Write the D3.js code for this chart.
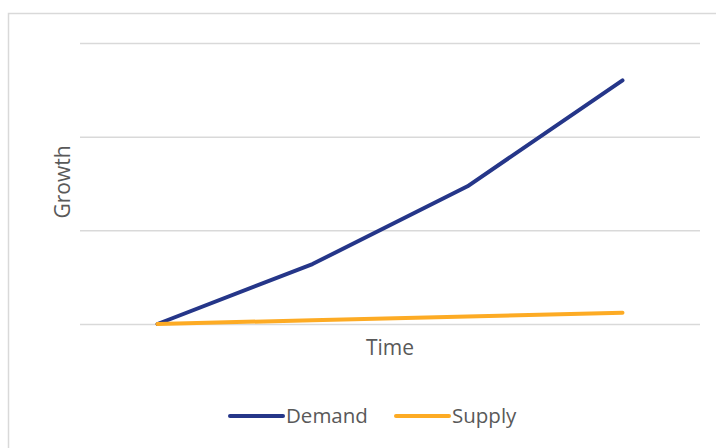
<!DOCTYPE html>
<html>
<head>
<meta charset="utf-8">
<script src="https://cdn.jsdelivr.net/npm/d3@7"></script>
<style>
  html, body { margin: 0; padding: 0; background: #fff; }
  svg { display: block; }
  text { font-family: "Open Sans", "Liberation Sans", sans-serif; fill: #595959; }
</style>
</head>
<body>
<svg id="chart" width="716" height="448"></svg>
<script>
const categories = ["T1", "T2", "T3", "T4"];
const demandValues = [0, 64, 147, 260];
const supplyValues = [0, 4, 8, 12];
const yTicks = [0, 100, 200, 300];
const seriesNames = ["Demand", "Supply"];
const seriesColors = ["#253689", "#FDAB24"];

const svg = d3.select("#chart");
const plot = { left: 80, right: 700, top: 43, bottom: 324 };

// outer chart border
svg.append("rect")
  .attr("x", 8.5).attr("y", 13.5)
  .attr("width", 760).attr("height", 480)
  .attr("fill", "#fff").attr("stroke", "#d9d9d9").attr("stroke-width", 1.5);

const x = d3.scaleBand().domain(categories).range([plot.left, plot.right]);
const y = d3.scaleLinear().domain([0, 300]).range([plot.bottom, plot.top]);

// gridlines
svg.append("g")
  .attr("transform", `translate(${plot.left},0)`)
  .call(d3.axisLeft(y).tickValues(yTicks).tickSize(-(plot.right - plot.left)).tickFormat(""))
  .call(g => g.select(".domain").remove())
  .call(g => g.selectAll(".tick line").attr("stroke", "#d9d9d9").attr("stroke-width", 1.5));

const line = d3.line()
  .x((d, i) => x(categories[i]) + x.bandwidth() / 2)
  .y(d => y(d));

[[demandValues, seriesColors[0]], [supplyValues, seriesColors[1]]].forEach(([vals, color]) => {
  svg.append("path")
    .datum(vals)
    .attr("d", line)
    .attr("fill", "none")
    .attr("stroke", color)
    .attr("stroke-width", 4)
    .attr("stroke-linecap", "round")
    .attr("stroke-linejoin", "round");
});

// axis titles
svg.append("text")
  .attr("x", 390).attr("y", 355)
  .attr("text-anchor", "middle")
  .attr("font-size", 21)
  .text("Time");

svg.append("text")
  .attr("transform", `translate(70, 182) rotate(-90)`)
  .attr("text-anchor", "middle")
  .attr("font-size", 21)
  .text("Growth");

// legend
const legend = [
  { name: seriesNames[0], color: seriesColors[0], x0: 230 },
  { name: seriesNames[1], color: seriesColors[1], x0: 396 }
];
legend.forEach(l => {
  svg.append("line")
    .attr("x1", l.x0).attr("x2", l.x0 + 53)
    .attr("y1", 416).attr("y2", 416)
    .attr("stroke", l.color).attr("stroke-width", 4)
    .attr("stroke-linecap", "round");
  svg.append("text")
    .attr("x", l.x0 + 56).attr("y", 423)
    .attr("font-size", 20.5)
    .text(l.name);
});
</script>
</body>
</html>
